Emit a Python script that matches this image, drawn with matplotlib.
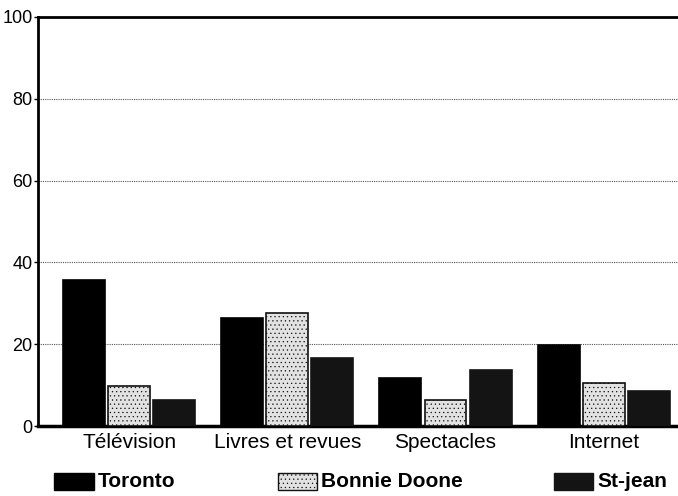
import numpy as np
import matplotlib
matplotlib.use('Agg')
import matplotlib.pyplot as plt

plt.rcParams['font.family'] = ['Liberation Sans', 'DejaVu Sans']
plt.rcParams['hatch.linewidth'] = 0.4
plt.rcParams['hatch.color'] = '#777777'

# data
categories = ['Télévision', 'Livres et revues', 'Spectacles', 'Internet']
series_names = ['Toronto', 'Bonnie Doone', 'St-jean']
toronto = [35.7, 26.4, 11.7, 19.8]
bonnie_doone = [9.8, 27.6, 6.4, 10.5]
st_jean = [6.4, 16.6, 13.7, 8.6]
y_ticks = [0, 20, 40, 60, 80, 100]

fig = plt.figure(figsize=(6.78, 4.96), dpi=100)
ax = fig.add_axes([0.056, 0.141, 0.944, 0.825])

x = np.arange(len(categories))
step = 0.285
width = 0.265

styles = [
    dict(color='#000000', edgecolor='#000000'),
    dict(color='#e2e2e2', edgecolor='#111111', hatch='....'),
    dict(color='#141414', edgecolor='#141414'),
]
for i, vals in enumerate([toronto, bonnie_doone, st_jean]):
    st = styles[i]
    ax.bar(x + (i - 1) * step, vals, width, facecolor=st['color'],
           edgecolor=st['edgecolor'], hatch=st.get('hatch'), linewidth=1.2,
           zorder=3)

ax.set_ylim(0, 100)
ax.set_xlim(-0.576, 3.47)
ax.set_yticks(y_ticks)
ax.set_yticklabels([str(v) for v in y_ticks], fontsize=13)
ax.tick_params(axis='y', length=3, width=1, pad=1)
ax.set_xticks(x)
ax.set_xticklabels(categories, fontsize=15)
ax.tick_params(axis='x', length=0, pad=5)

for v in y_ticks[1:-1]:
    ax.axhline(v, color='#555555', linestyle=(0, (1, 1)), linewidth=0.8, zorder=1)

ax.spines['right'].set_visible(False)
ax.spines['top'].set_linewidth(2)
ax.spines['left'].set_linewidth(2)
ax.spines['bottom'].set_linewidth(2.5)

# legend row under the chart
legend_x = [0.080, 0.410, 0.817]
for i, name in enumerate(series_names):
    st = styles[i]
    fig.patches.append(plt.Rectangle((legend_x[i], 0.012), 0.058, 0.034,
                                     transform=fig.transFigure, facecolor=st['color'],
                                     edgecolor=st['edgecolor'], hatch=st.get('hatch'),
                                     linewidth=1))
    fig.text(legend_x[i] + 0.064, 0.029, name, fontsize=15, fontweight='bold',
             va='center', ha='left')

fig.savefig('out.png', dpi=100)
